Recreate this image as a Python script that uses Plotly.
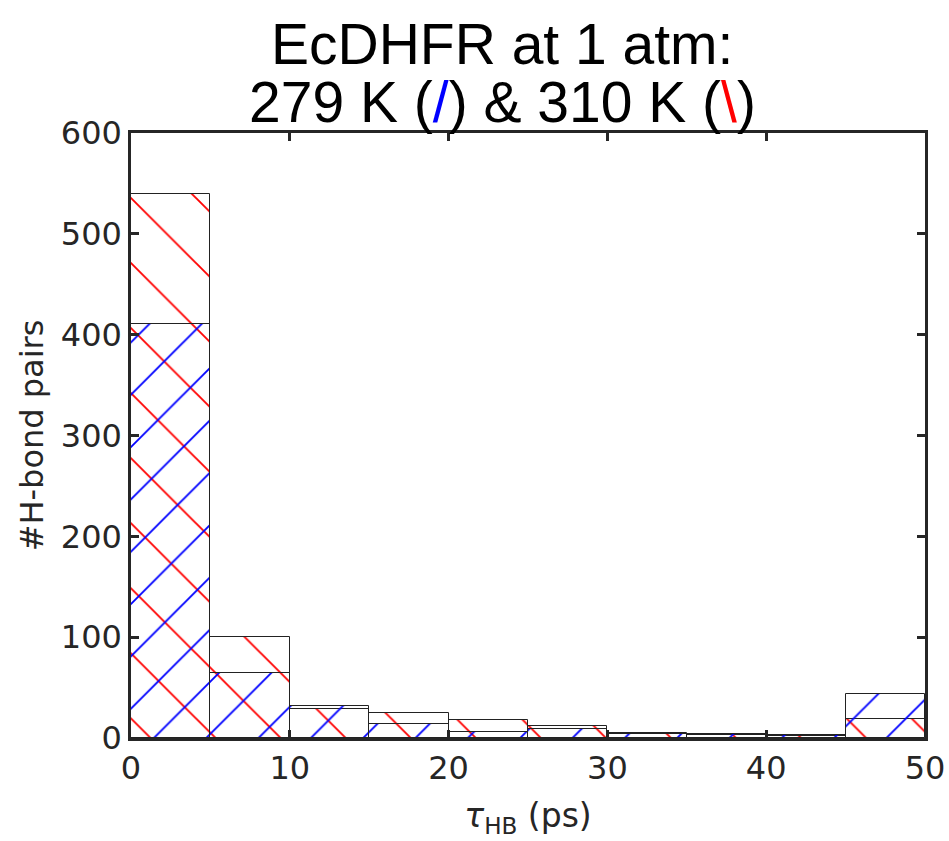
import plotly.graph_objects as go

bin_left = [0, 5, 10, 15, 20, 25, 30, 35, 40, 45]
bin_width = 5
counts_279K = [411, 64, 32, 14, 6, 9, 4, 4, 3, 44]
counts_310K = [540, 100, 29, 25, 18, 12, 5, 3, 2, 19]

title_line1 = "EcDHFR at 1 atm:"
title_line2 = ("279 K (<span style='color:#0000ff'>/</span>) & "
               "310 K (<span style='color:#ff0000'>\\</span>)")

centers = [b + bin_width / 2 for b in bin_left]

fig = go.Figure()
fig.add_trace(go.Bar(
    x=centers, y=counts_310K, width=bin_width,
    marker=dict(color="rgba(0,0,0,0)",
                line=dict(color="#222222", width=1),
                pattern=dict(shape="\\", fgcolor="#ff0000", bgcolor="rgba(0,0,0,0)",
                             fgopacity=1, size=46, solidity=0.04)),
    name="310 K", showlegend=False))
fig.add_trace(go.Bar(
    x=centers, y=counts_279K, width=bin_width,
    marker=dict(color="rgba(0,0,0,0)",
                line=dict(color="#222222", width=1),
                pattern=dict(shape="/", fgcolor="#0000ff", bgcolor="rgba(0,0,0,0)",
                             fgopacity=1, size=37, solidity=0.05)),
    name="279 K", showlegend=False))

axis_col = "#262626"
PT = 133
PB = 738
PL = 131
PR = 925
ph = PB - PT
pw = PR - PL

fig.update_layout(
    width=949, height=841,
    barmode="overlay", bargap=0,
    plot_bgcolor="white", paper_bgcolor="white",
    margin=dict(l=PL, r=949 - PR, t=PT, b=841 - PB, autoexpand=False),
    font=dict(family="DejaVu Sans", color=axis_col),
    annotations=[
        dict(text=title_line1, xref="paper", yref="paper",
             x=(502 - PL) / pw, y=1 + (PT - 44) / ph, xanchor="center", yanchor="middle",
             showarrow=False, font=dict(family="Liberation Sans, Arial", size=57, color="black")),
        dict(text=title_line2, xref="paper", yref="paper",
             x=(502 - PL) / pw, y=1 + (PT - 102) / ph, xanchor="center", yanchor="middle",
             showarrow=False, font=dict(family="Liberation Sans, Arial", size=57, color="black")),
    ],
)
fig.update_xaxes(
    range=[0, 50], tickvals=[0, 10, 20, 30, 40, 50],
    showgrid=False, zeroline=False,
    showline=True, linecolor=axis_col, linewidth=2.5, mirror="ticks",
    ticks="inside", ticklen=8, tickwidth=2.5, tickcolor=axis_col,
    tickfont=dict(size=32, color=axis_col, family="DejaVu Sans"),
    title=dict(text="<i>τ</i><sub>HB</sub> (ps)", font=dict(size=33, color=axis_col, family="DejaVu Sans"),
               standoff=18),
)
fig.update_yaxes(
    range=[0, 600], tickvals=[0, 100, 200, 300, 400, 500, 600],
    showgrid=False, zeroline=False,
    showline=True, linecolor=axis_col, linewidth=2.5, mirror="ticks",
    ticks="inside", ticklen=8, tickwidth=2.5, tickcolor=axis_col,
    tickfont=dict(size=32, color=axis_col, family="DejaVu Sans"),
    title=dict(text="#H-bond pairs", font=dict(size=32, color=axis_col, family="DejaVu Sans"),
               standoff=8),
)

fig.write_html("out.html")
